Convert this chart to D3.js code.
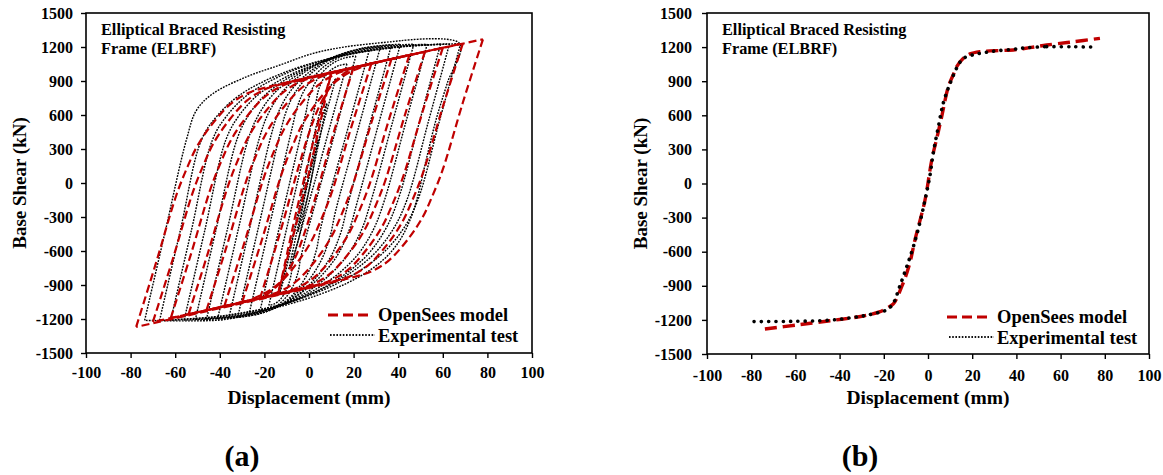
<!DOCTYPE html>
<html>
<head>
<meta charset="utf-8">
<script src="https://cdn.jsdelivr.net/npm/d3@7/dist/d3.min.js"></script>
<style>
  body { margin: 0; background: #fff; }
  svg { display: block; font-family: "Liberation Serif", "Times New Roman", serif; font-weight: bold; }
</style>
</head>
<body>
<svg id="chart" width="1163" height="475"></svg>
<script>
const xTicks = [-100, -80, -60, -40, -20, 0, 20, 40, 60, 80, 100]
const yTicks = [-1500, -1200, -900, -600, -300, 0, 300, 600, 900, 1200, 1500]
const seriesNames = ["OpenSees model", "Experimental test"]
const frameName = ["Elliptical Braced Resisting", "Frame (ELBRF)"]

// (a) cyclic test, one closed loop per amplitude: [displacement mm, base shear kN]
const testLoops = [
  [[-5,-430],[-1,-40],[4,380],[0,-70],[-5,-430]],
  [[-9,-760],[-1,-20],[5,530],[8,700],[0,-60],[-5,-520],[-9,-760]],
  [[-13,-960],[-4,-180],[4,560],[8,800],[12,920],[2.5,240],[-7,-470],[-9.5,-700],[-11.5,-860],[-13,-960]],
  [[-18,-1080],[-7.4,-180],[3.2,720],[4,803],[5.3,875],[7.3,944],[10.1,1001],[13.6,1037],[17,1050],
   [4.9,175],[-7.3,-700],[-7.9,-795],[-8.9,-879],[-10.5,-958],[-12.7,-1023],[-15.3,-1065],[-18,-1080]],
  [[-22,-1130],[-11.7,-255],[-1.4,620],[-0.1,745],[2,855],[5.3,960],[9.8,1045],[15.4,1100],[21,1120],
   [8.7,235],[-3.6,-650],[-4.7,-770],[-6.4,-876],[-9.1,-976],[-12.8,-1058],[-17.4,-1111],[-22,-1130]],
  [[-27,-1165],[-17.2,-333],[-7.4,500],[-5.3,668],[-2.2,815],[2.9,956],[9.8,1070],[18.4,1143],[27,1170],
   [16.1,385],[5.2,-400],[3.3,-591],[0.4,-760],[-4.5,-920],[-10.9,-1050],[-19,-1134],[-27,-1165]],
  [[-32,-1185],[-22.4,-368],[-12.8,450],[-10.1,638],[-6.1,803],[0.6,960],[9.6,1088],[20.8,1170],[32,1200],
   [22,475],[11.9,-250],[9.3,-484],[5.3,-689],[-1.3,-886],[-10.1,-1045],[-21,-1148],[-32,-1185]],
  [[-36,-1195],[-26.5,-388],[-17,420],[-13.8,620],[-8.9,796],[-0.8,964],[10,1100],[23.5,1188],[37,1220],
   [27.2,515],[17.4,-190],[14.2,-441],[9.4,-662],[1.4,-873],[-9.3,-1044],[-22.7,-1155],[-36,-1195]],
  [[-41,-1200],[-31.6,-400],[-22.2,400],[-18.4,606],[-12.7,788],[-3.2,961],[9.4,1101],[25.2,1192],[41,1225],
   [31.3,528],[21.6,-170],[17.8,-428],[12.2,-654],[2.8,-870],[-9.7,-1046],[-25.4,-1159],[-41,-1200]],
  [[-46,-1205],[-36.6,-408],[-27.2,390],[-22.7,599],[-16.1,782],[-4.9,958],[9.9,1100],[28.5,1192],[47,1225],
   [37.4,533],[27.8,-160],[23.4,-421],[16.7,-651],[5.7,-871],[-9.1,-1048],[-27.6,-1163],[-46,-1205]],
  [[-51,-1208],[-41.7,-412],[-32.3,385],[-27.2,595],[-19.5,780],[-6.7,956],[10.4,1099],[31.7,1191],[53,1225],
   [43.4,535],[33.8,-155],[28.7,-418],[21.1,-650],[8.4,-871],[-8.6,-1050],[-29.8,-1166],[-51,-1208]],
  [[-56,-1210],[-46.7,-415],[-37.3,380],[-31.5,591],[-22.9,777],[-8.4,955],[10.9,1098],[34.9,1191],[59,1225],
   [49.5,538],[39.9,-150],[34.1,-415],[25.5,-648],[11.1,-871],[-8.1,-1051],[-32,-1168],[-56,-1210]],
  [[-62,-1210],[-52.7,-415],[-43.3,380],[-36.9,592],[-27.4,779],[-11.4,957],[9.9,1101],[36.4,1194],[63,1228],
   [53.5,539],[43.9,-150],[37.5,-415],[28,-648],[12.1,-871],[-9.1,-1051],[-35.5,-1168],[-62,-1210]],
  [[-67,-1212],[-57.7,-418],[-48.3,377],[-41.3,590],[-30.9,778],[-13.4,957],[9.9,1102],[38.9,1196],[68,1230],
   [58.4,540],[48.8,-150],[41.9,-416],[31.4,-649],[14.1,-872],[-9.1,-1053],[-38.1,-1170],[-67,-1212]],
  [[-73.7,-1212],[-64.5,-430],[-55,379],[-50.4,644],[-42.9,791],[-27.9,938],[-13,1041],[1.9,1144],[16.9,1203],[36.3,1245],[67.6,1230],
   [62,880],[57,560],[52.5,200],[48.3,-150],[45.3,-327],[40.8,-503],[34.8,-650],[27.4,-768],[16.9,-885],[1.9,-1003],[-13,-1091],[-27.9,-1165],[-39.9,-1209],[-73.7,-1212]]
]

// (a) OpenSees model loops
const modelLoops = [
  [[-14,-985],[-6,-380],[2,260],[6,620],[8,800],[10,978],[2,370],[-6,-280],[-10,-640],[-12,-820],[-14,-985]],
  [[-22,-1020],[-13,-440],[-5,120],[0,440],[4,650],[9,830],[14,940],[20,1021],
   [11,440],[3,-120],[-2,-440],[-6,-650],[-11,-830],[-16,-940],[-22,-1020]],
  [[-30,-1054],[-21,-494],[-12,96],[-7,346],[-3,516],[3,696],[10,860],[18,975],[28,1055],
   [19,495],[10,-95],[5,-345],[1,-515],[-5,-695],[-12,-860],[-20,-975],[-30,-1054]],
  [[-38,-1088],[-29,-528],[-20,62],[-15,312],[-11,482],[-5,662],[4,862],[12,962],[20,1012],[37,1094],
   [28,534],[19,-56],[14,-306],[10,-476],[4,-656],[-5,-856],[-13,-956],[-21,-1006],[-38,-1088]],
  [[-46,-1123],[-37,-563],[-28,27],[-23,277],[-19,447],[-13,627],[-4,827],[4,927],[12,977],[45,1129],
   [36,569],[27,-21],[22,-271],[18,-441],[12,-621],[3,-821],[-5,-921],[-13,-971],[-46,-1123]],
  [[-54,-1157],[-45,-597],[-36,-7],[-31,243],[-27,413],[-21,593],[-12,793],[-4,893],[4,943],[52,1159],
   [43,599],[34,9],[29,-241],[25,-411],[19,-591],[10,-791],[2,-891],[-6,-941],[-54,-1157]],
  [[-62,-1192],[-53,-632],[-44,-42],[-39,208],[-35,378],[-29,558],[-20,758],[-12,858],[-4,908],[60,1193],
   [51,633],[42,43],[37,-207],[33,-377],[27,-557],[18,-757],[10,-857],[2,-907],[-62,-1192]],
  [[-70,-1226],[-61,-666],[-52,-76],[-47,174],[-43,344],[-37,524],[-28,724],[-20,824],[-12,874],[69,1232],
   [60,672],[51,82],[46,-168],[42,-338],[36,-518],[27,-718],[19,-818],[11,-868],[-70,-1226]],
  [[-77.5,-1270],[-68.5,-698],[-59.5,-108],[-54.5,142],[-50.5,312],[-44.5,492],[-35.5,692],[-27.5,792],[-19.5,842],[78,1268],
   [69,710],[60,120],[55,-130],[51,-300],[45,-480],[36,-680],[28,-780],[20,-830],[-77.5,-1270]]
]

// (b) envelope curves
const testEnvelope = [[-78.7,-1215],[-62,-1213],[-45,-1203],[-35,-1182],[-28,-1160],[-22,-1133],[-18.5,-1110],[-15.7,-1054],
  [-12.7,-900],[-9.6,-730],[-6.7,-560],[-3.6,-340],[-1.4,-150],[0.8,60],[2.4,270],[4.7,500],[6.9,706],[10,881],
  [13.7,1043],[16,1101],[20,1130],[23.5,1145],[30,1165],[38.6,1181],[45,1195],[53.7,1204],[65,1203],[74.8,1200]]
const modelEnvelope = [[-73.8,-1280],[-59.4,-1245],[-44.3,-1207],[-29.3,-1166],[-22,-1130],[-18,-1090],[-15.7,-1060],
  [-11.9,-908],[-8.5,-720],[-5.9,-497],[-1.4,-150],[1.7,207],[4,400],[6.2,588],[9.2,852],[11.5,960],[13,1028],
  [16,1101],[19,1140],[23.5,1160],[30,1168],[38.6,1175],[46,1195],[53.7,1218],[65,1245],[77.8,1277]]

const red = "#c00000"
const svg = d3.select("#chart")

// split a closed loop at its positive peak so the reversal stays sharp
const branches = loop => {
  const i = d3.maxIndex(loop, d => d[1])
  return i > 0 && i < loop.length - 1 ? [loop.slice(0, i + 1), loop.slice(i)] : [loop]
}

const panels = [
  {label: "(a)", left: 86, right: 532, top: 13, bottom: 353, xPad: 9, yPad: 8, titleX: 26, labelX: 242,
   legendX: 328, legendY: 315, model: modelLoops, test: testLoops, testOnTop: false,
   modelStyle: {w: 2.2, dash: "8,4"}, testStyle: {w: 1.4, dash: "1.8,1.2", cap: "butt"}},
  {label: "(b)", left: 707, right: 1149, top: 13, bottom: 354, xPad: 11, yPad: 10, titleX: 647, labelX: 860,
   legendX: 947, legendY: 317, model: [modelEnvelope], test: [testEnvelope], testOnTop: true,
   modelStyle: {w: 3.4, dash: "12,6"}, testStyle: {w: 3.6, dash: "0.1,7.2", cap: "round"}}
]

panels.forEach(p => {
  const x = d3.scaleLinear().domain([-100, 100]).range([p.left, p.right])
  const y = d3.scaleLinear().domain([-1500, 1500]).range([p.bottom, p.top])
  const g = svg.append("g")

  const line = d3.line()
    .x(d => x(d[0]))
    .y(d => y(d[1]))
    .curve(d3.curveCatmullRom.alpha(0.5))

  const drawTest = () => g.append("g").selectAll("path")
    .data(p.test.flatMap(branches))
    .join("path")
    .attr("d", line)
    .attr("fill", "none")
    .attr("stroke", "#000")
    .attr("stroke-width", p.testStyle.w)
    .attr("stroke-dasharray", p.testStyle.dash)
    .attr("stroke-linecap", p.testStyle.cap)

  const drawModel = () => g.append("g").selectAll("path")
    .data(p.model.flatMap(branches))
    .join("path")
    .attr("d", line)
    .attr("fill", "none")
    .attr("stroke", red)
    .attr("stroke-width", p.modelStyle.w)
    .attr("stroke-dasharray", p.modelStyle.dash)

  if (p.testOnTop) { drawModel(); drawTest() } else { drawTest(); drawModel() }

  const xAxis = g.append("g")
    .attr("transform", `translate(0,${p.bottom})`)
    .call(d3.axisBottom(x).tickValues(xTicks).tickFormat(d => String(d))
      .tickSize(5).tickSizeOuter(0).tickPadding(p.xPad))
  const yAxis = g.append("g")
    .attr("transform", `translate(${p.left},0)`)
    .call(d3.axisLeft(y).tickValues(yTicks).tickFormat(d => String(d))
      .tickSize(5).tickSizeOuter(0).tickPadding(p.yPad))

  ;[xAxis, yAxis].forEach(a => {
    a.attr("font-family", null).attr("font-size", null)
    a.selectAll("text").attr("font-size", 16).attr("fill", "#000")
    a.selectAll("line").attr("stroke", "#000").attr("stroke-width", 1.4)
    a.select(".domain").remove()
  })

  g.append("rect")
    .attr("x", p.left).attr("y", p.top)
    .attr("width", p.right - p.left).attr("height", p.bottom - p.top)
    .attr("fill", "none").attr("stroke", "#000").attr("stroke-width", 1.6)

  g.append("text")
    .attr("x", (p.left + p.right) / 2).attr("y", 404)
    .attr("text-anchor", "middle").attr("font-size", 19.5)
    .text("Displacement (mm)")

  g.append("text")
    .attr("transform", `translate(${p.titleX},${(p.top + p.bottom) / 2}) rotate(-90)`)
    .attr("text-anchor", "middle").attr("font-size", 19)
    .text("Base Shear (kN)")

  g.selectAll(".frame-name")
    .data(frameName)
    .join("text")
    .attr("class", "frame-name")
    .attr("x", p.left + 15)
    .attr("y", (d, i) => 35 + i * 18.5)
    .attr("font-size", 16.3)
    .text(d => d)

  const lg = g.append("g")
  lg.append("line")
    .attr("x1", p.legendX).attr("x2", p.legendX + 45)
    .attr("y1", p.legendY).attr("y2", p.legendY)
    .attr("stroke", red).attr("stroke-width", 3).attr("stroke-dasharray", "10,5")
  lg.append("line")
    .attr("x1", p.legendX + 2).attr("x2", p.legendX + 47)
    .attr("y1", p.legendY + 20).attr("y2", p.legendY + 20)
    .attr("stroke", "#111").attr("stroke-width", 2).attr("stroke-dasharray", "1.6,1.6")
  lg.selectAll("text")
    .data(seriesNames)
    .join("text")
    .attr("x", p.legendX + 50)
    .attr("y", (d, i) => p.legendY + 6 + i * 21)
    .attr("font-size", 18.5)
    .text(d => d)

  g.append("text")
    .attr("x", p.labelX).attr("y", 466)
    .attr("text-anchor", "middle").attr("font-size", 30)
    .text(p.label)
})
</script>
</body>
</html>
